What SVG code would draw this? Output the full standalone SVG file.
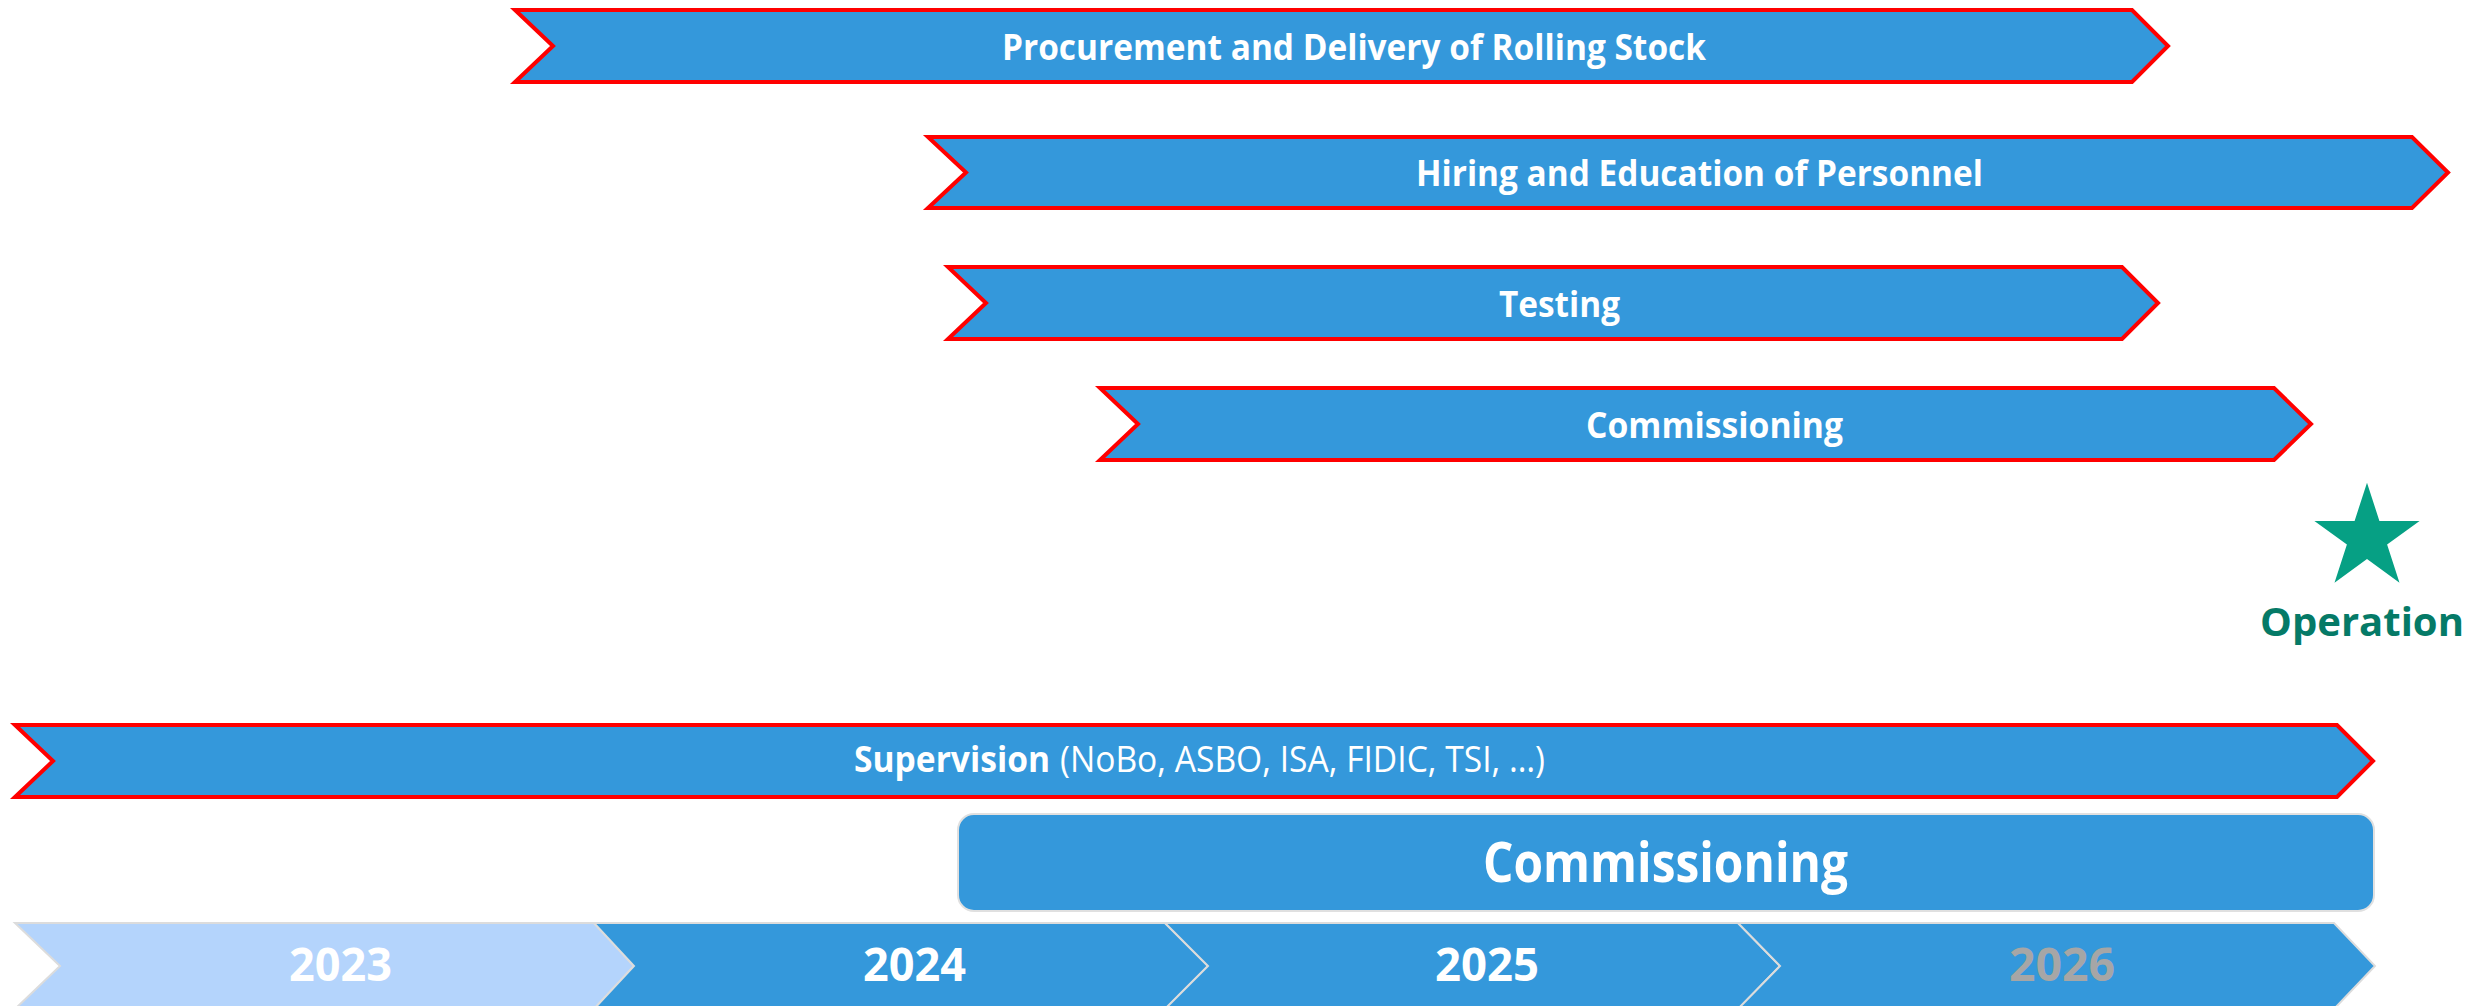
<svg xmlns="http://www.w3.org/2000/svg" width="2473" height="1006" viewBox="0 0 2473 1006">
<style>
.bar{fill:#3498DB;stroke:#FF0000;stroke-width:4;stroke-linejoin:miter}
.yr{stroke:#DCDCDC;stroke-width:2}
.lbl{font-family:"Open Sans","Noto Sans",sans-serif;font-weight:bold;font-size:36px;fill:#FFFFFF}
.reg{font-family:"Open Sans","Noto Sans",sans-serif;font-weight:normal;font-size:36px;fill:#FFFFFF}
.year{font-family:"Open Sans","Noto Sans",sans-serif;font-weight:bold;font-size:47px;fill:#FFFFFF}
</style>
<rect width="2473" height="1006" fill="#FFFFFF"/>
<g id="procurement">
<polygon class="bar" points="515,10 2132,10 2168,46 2132,82 515,82 553,46"/>
<text class="lbl" x="1002" y="60" textLength="704" lengthAdjust="spacingAndGlyphs">Procurement and Delivery of Rolling Stock</text>
</g>
<g id="hiring">
<polygon class="bar" points="928,137 2412,137 2448,172.5 2412,208 928,208 966,172.5"/>
<text class="lbl" x="1416" y="186" textLength="567" lengthAdjust="spacingAndGlyphs">Hiring and Education of Personnel</text>
</g>
<g id="testing">
<polygon class="bar" points="948,267 2122,267 2158,303 2122,339 948,339 986,303"/>
<text class="lbl" x="1499" y="317" textLength="121" lengthAdjust="spacingAndGlyphs">Testing</text>
</g>
<g id="commissioning-bar">
<polygon class="bar" points="1100,388 2274,388 2311,424 2274,460 1100,460 1138,424"/>
<text class="lbl" x="1586" y="438" textLength="257" lengthAdjust="spacingAndGlyphs">Commissioning</text>
</g>
<g id="operation">
<polygon fill="#06A084" points="2367,482.7 2379.4,520.9 2419.6,520.9 2387.1,544.5 2399.5,582.7 2367,559.1 2334.5,582.7 2346.9,544.5 2314.4,520.9 2354.6,520.9"/>
<text x="2260" y="636" textLength="204" lengthAdjust="spacingAndGlyphs" style="font-family:'Open Sans','Noto Sans',sans-serif;font-weight:bold;font-size:40px;fill:#057A67">Operation</text>
</g>
<g id="supervision">
<polygon class="bar" points="15,725 2337,725 2373,761 2337,797 15,797 53,761"/>
<text class="lbl" x="854" y="772" textLength="196" lengthAdjust="spacingAndGlyphs">Supervision</text>
<text class="reg" x="1060" y="772" textLength="485" lengthAdjust="spacingAndGlyphs">(NoBo, ASBO, ISA, FIDIC, TSI, …)</text>
</g>
<g id="commissioning-phase">
<rect x="958" y="814" width="1416" height="97" rx="16" ry="16" fill="#3498DB" stroke="#E0E0E0" stroke-width="2"/>
<text x="1483" y="882" textLength="365" lengthAdjust="spacingAndGlyphs" style="font-family:'Open Sans','Noto Sans',sans-serif;font-weight:bold;font-size:56px;fill:#FFFFFF">Commissioning</text>
</g>
<g id="year-2023">
<polygon class="yr" fill="#B4D4FC" points="15,923 594,923 634,966 594,1009 15,1009 60,966"/>
<text class="year" x="289" y="981" textLength="103" lengthAdjust="spacingAndGlyphs">2023</text>
</g>
<g id="year-2024">
<polygon class="yr" fill="#3498DB" points="594,923 1165,923 1208,966 1165,1009 594,1009 634,966"/>
<text class="year" x="863" y="981" textLength="103" lengthAdjust="spacingAndGlyphs">2024</text>
</g>
<g id="year-2025">
<polygon class="yr" fill="#3498DB" points="1165,923 1738,923 1780,966 1738,1009 1165,1009 1208,966"/>
<text class="year" x="1435" y="981" textLength="104" lengthAdjust="spacingAndGlyphs">2025</text>
</g>
<g id="year-2026">
<polygon class="yr" fill="#3498DB" points="1738,923 2334,923 2375,966 2334,1009 1738,1009 1780,966"/>
<text class="year" x="2009" y="981" textLength="106" lengthAdjust="spacingAndGlyphs" style="fill:#A6A6A6">2026</text>
</g>
<g id="connectors"/>
</svg>
